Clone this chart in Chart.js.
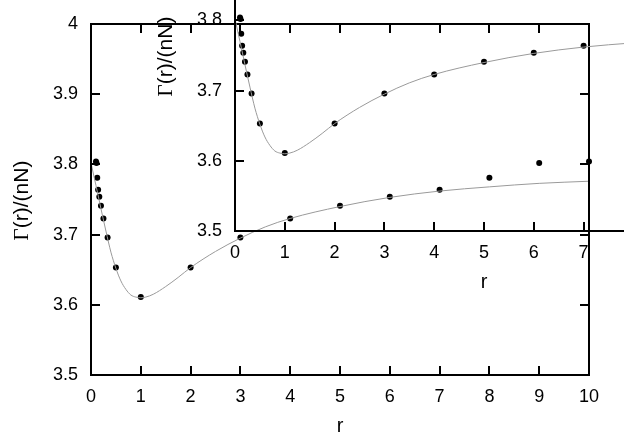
<!DOCTYPE html>
<html>
<head>
<meta charset="utf-8">
<script src="https://cdn.jsdelivr.net/npm/chart.js@4/dist/chart.umd.min.js"></script>
<style>
  body { margin: 0; background: #fff; }
  #wrap { position: relative; width: 624px; height: 436px; overflow: hidden; background: #fff; }
  #wrap canvas { position: absolute; }
</style>
</head>
<body>
<div id="wrap">
  <canvas id="chartMain" width="624" height="436" style="left:0;top:0"></canvas>
  <canvas id="chartCopy" width="624" height="436" style="left:144px;top:-144px"></canvas>
</div>
<script>
// measured points
const rPoints = [0.1, 0.111, 0.125, 0.143, 0.167, 0.2, 0.25, 0.333, 0.5, 1, 2, 3, 4, 5, 6, 7, 8, 9, 10];
const gammaPoints = [3.804, 3.802, 3.781, 3.764, 3.754, 3.741, 3.723, 3.696, 3.653, 3.611, 3.653, 3.696, 3.723, 3.741, 3.754, 3.764, 3.781, 3.802, 3.804];

// fitted curve
const rFit = [0, 0.1, 0.2, 0.3, 0.4, 0.5, 0.6, 0.7, 0.8, 0.9, 1, 1.1, 1.25, 1.5, 1.75, 2, 2.5, 3, 3.5, 4, 5, 6, 7, 8, 9, 10];
const gammaFit = [3.802, 3.770, 3.737, 3.705, 3.675, 3.652, 3.634, 3.622, 3.614, 3.611, 3.610, 3.611, 3.615, 3.626, 3.639, 3.653, 3.676, 3.695, 3.711, 3.723, 3.740, 3.753, 3.762, 3.768, 3.773, 3.776];

const xTicks = [0, 1, 2, 3, 4, 5, 6, 7, 8, 9, 10];
const yTicks = [3.5, 3.6, 3.7, 3.8, 3.9, 4];

Chart.defaults.font.family = "'Liberation Sans', Arial, sans-serif";
Chart.defaults.color = '#000';

// gnuplot style box with inward ticks
const framePlugin = {
  id: 'frame',
  afterDatasetsDraw(chart) {
    const { ctx, chartArea: a, scales: { x, y } } = chart;
    const tl = 9;
    ctx.save();
    ctx.strokeStyle = '#000';
    ctx.lineWidth = 2;
    ctx.beginPath();
    xTicks.forEach((v) => {
      const px = Math.round(x.getPixelForValue(v));
      ctx.moveTo(px, a.bottom); ctx.lineTo(px, a.bottom - tl);
      ctx.moveTo(px, a.top); ctx.lineTo(px, a.top + tl);
    });
    yTicks.forEach((v) => {
      const py = Math.round(y.getPixelForValue(v));
      ctx.moveTo(a.left, py); ctx.lineTo(a.left + tl, py);
      ctx.moveTo(a.right, py); ctx.lineTo(a.right - tl, py);
    });
    ctx.stroke();
    ctx.strokeRect(a.left, a.top, a.right - a.left, a.bottom - a.top);
    ctx.restore();
  },
};

// y title with a serif Gamma
const yTitlePlugin = {
  id: 'ytitle',
  afterDraw(chart) {
    const { ctx, chartArea: a } = chart;
    const sans = "21px 'Liberation Sans', Arial, sans-serif";
    const serif = "21px 'Liberation Serif', 'Times New Roman', serif";
    ctx.save();
    ctx.translate(22, (a.top + a.bottom) / 2 + 1);
    ctx.rotate(-Math.PI / 2);
    ctx.fillStyle = '#000';
    ctx.textBaseline = 'middle';
    ctx.font = serif;
    const w1 = ctx.measureText('Γ').width;
    ctx.font = sans;
    const w2 = ctx.measureText('(r)/(nN)').width;
    let start = -(w1 + w2) / 2;
    ctx.font = serif;
    ctx.fillText('Γ', start, 0);
    ctx.font = sans;
    ctx.fillText('(r)/(nN)', start + w1, 0);
    ctx.restore();
  },
};

function makeConfig() {
  return {
    type: 'scatter',
    data: {
      datasets: [
        {
          label: 'fit',
          data: rFit.map((r, i) => ({ x: r, y: gammaFit[i] })),
          showLine: true,
          borderColor: '#9a9a9a',
          borderWidth: 1,
          pointRadius: 0,
          cubicInterpolationMode: 'monotone',
        },
        {
          label: 'data',
          data: rPoints.map((r, i) => ({ x: r, y: gammaPoints[i] })),
          showLine: false,
          pointRadius: 3,
          pointBackgroundColor: '#000',
          pointBorderWidth: 0,
          clip: false,
        },
      ],
    },
    options: {
      responsive: false,
      animation: false,
      devicePixelRatio: 1,
      layout: { padding: { top: 24, right: 35, left: 0, bottom: 0 } },
      plugins: { legend: { display: false }, tooltip: { enabled: false } },
      scales: {
        x: {
          type: 'linear',
          min: 0,
          max: 10,
          grid: { display: false, drawTicks: false },
          border: { display: false },
          afterBuildTicks: (scale) => { scale.ticks = xTicks.map((v) => ({ value: v })); },
          afterFit: (scale) => { scale.height = 61; },
          ticks: { font: { size: 18 }, padding: 11, autoSkip: false, maxRotation: 0 },
          title: { display: true, text: 'r', font: { size: 20, lineHeight: 1 }, padding: 0 },
        },
        y: {
          type: 'linear',
          min: 3.5,
          max: 4,
          grid: { display: false, drawTicks: false },
          border: { display: false },
          afterBuildTicks: (scale) => { scale.ticks = yTicks.map((v) => ({ value: v })); },
          afterFit: (scale) => { scale.width = 91; },
          ticks: {
            font: { size: 18 },
            padding: 13,
            callback: (v) => String(Number(v.toFixed(1))),
          },
        },
      },
    },
    plugins: [framePlugin, yTitlePlugin],
  };
}

const chartMain = new Chart(document.getElementById('chartMain'), makeConfig());
const chartCopy = new Chart(document.getElementById('chartCopy'), makeConfig());
</script>
</body>
</html>
